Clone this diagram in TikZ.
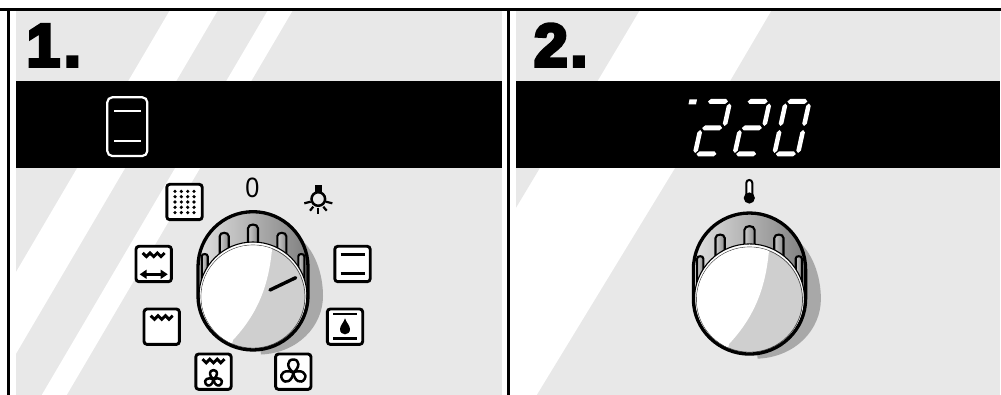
\documentclass[tikz,border=0pt]{standalone}
\usepackage{fontspec}
\setmainfont{Liberation Sans}
\newfontfamily\heavyfont[FakeBold=6,UprightFont=* Bold]{Liberation Sans}
\usetikzlibrary{arrows.meta}
\definecolor{panelgray}{HTML}{E8E8E8}
\definecolor{shadowgray}{HTML}{A8A8A8}
\definecolor{crescent}{HTML}{CFCFCF}
\tikzset{
  framebar/.style={draw=black,line width=2.9pt},
  displaybar/.style={fill=black},
  stripe/.style={fill=white},
  iconframe/.style={draw=black,line width=2.9pt,fill=white,rounded corners=3pt},
  iconline/.style={draw=black,line width=2.5pt},
  zigzag/.style={draw=black,line width=2.9pt,line join=miter},
  blade/.style={draw=black,line width=2.5pt,fill=white,line join=round},
  slotshape/.style={draw=black,line width=2.1pt,left color=white!80!black,right color=black!45},
  knoboutline/.style={draw=black,line width=3.3pt},
  segment/.style={fill=white},
  lcdicon/.style={draw=white,line width=2.2pt},
}
\newcommand{\iconbox}[2]{\draw[iconframe] (#1-17.7,#2-17.7) rectangle (#1+17.7,#2+17.7);}
\newcommand{\topheat}[1]{\draw[zigzag] (-11,#1) -- (-7.3,#1+3.6) -- (-3.7,#1) -- (0,#1+3.6) -- (3.7,#1) -- (7.3,#1+3.6) -- (11,#1);}
\newcommand{\fanblades}{%
  \foreach \a in {0,120,240}{%
    \draw[blade,rotate=\a] (0,0) .. controls (-7,-5) and (-6.5,-13) .. (0,-13) .. controls (6.5,-13) and (7,-5) .. (0,0);}}
\newcommand{\knobbody}{%
  \fill[shadowgray] (44,-60) .. controls (62,-47) and (70,-22) .. (70,0) .. controls (70,30) and (45,57) .. (8,58.5) -- (0,0) -- cycle;
  \path[left color=black!12,middle color=black!20,right color=black!50]
    (-55,-29) .. controls (-55,-60) and (-30,-84.3) .. (0,-84.3) .. controls (30,-84.3) and (55,-60) .. (55,-29) -- (55,0) .. controls (55,30) and (30,54) .. (0,54) .. controls (-30,54) and (-55,30) .. (-55,0) -- cycle;
  \foreach \sx/\hw/\st/\sb in {-48.3/3/-42.7/-8,48.3/3/-42.7/-8,-28.8/4.5/-64.3/-30,28.8/4.5/-64.3/-30,0/5/-72.7/-40}{%
    \draw[slotshape] (\sx-\hw,\sb) -- (\sx-\hw,\st+\hw) .. controls (\sx-\hw,\st) and (\sx+\hw,\st) .. (\sx+\hw,\st+\hw) -- (\sx+\hw,\sb) -- cycle;}
  \draw[black,line width=1.1pt,fill=white] (0,0) ellipse [x radius=54,y radius=54];
  \draw[black!70,line width=0.7pt,fill=crescent] (0,0.6) ellipse [x radius=52,y radius=51.6];
  \begin{scope}
    \clip (0,0.6) ellipse [x radius=51.7,y radius=51.3];
    \fill[white] (20,-60) .. controls (18,-25) and (12,10) .. (-20,44) -- (-24,60) -- (-70,60) -- (-70,-60) -- cycle;
  \end{scope}
  \draw[knoboutline]
    (-55,-29) .. controls (-55,-60) and (-30,-84.3) .. (0,-84.3) .. controls (30,-84.3) and (55,-60) .. (55,-29) -- (55,0) .. controls (55,30) and (30,54) .. (0,54) .. controls (-30,54) and (-55,30) .. (-55,0) -- cycle;
}
\newcommand{\hseg}[3]{\fill[segment] (#1,#3) -- (#1+2.4,#3-2.5) -- (#2-2.4,#3-2.5) -- (#2,#3) -- (#2-2.4,#3+2.5) -- (#1+2.4,#3+2.5) -- cycle;}
\newcommand{\vseg}[3]{\fill[segment] (#1,#2) -- (#1+2.3,#2+2.4) -- (#1+2.3,#3-2.4) -- (#1,#3) -- (#1-2.3,#3-2.4) -- (#1-2.3,#2+2.4) -- cycle;}
\begin{document}
\begin{tikzpicture}[x=1pt,y=-1pt]
\useasboundingbox (0,0) rectangle (1001,395);
\fill[white] (0,0) rectangle (1001,395);
% panels
\fill[panelgray] (15.5,10) rectangle (502,395);
\fill[panelgray] (516,10) rectangle (1000,395);
% stripes panel 1
\begin{scope}
  \clip (15.5,10) rectangle (502,395);
  \fill[stripe] (170,10) -- (218,10) -- (-20,415) -- (-68,415) -- cycle;
  \fill[stripe] (268,10) -- (293,10) -- (55,415) -- (30,415) -- cycle;
\end{scope}
% stripes panel 2
\fill[stripe] (640,10) -- (771.7,10) -- (730,81) -- (597.7,81) -- cycle;
\fill[stripe] (540,168) -- (675,168) -- (536.7,395) -- (516,395) -- (516,208) -- cycle;
% frame
\draw[framebar] (0,9.2) -- (1001,9.2);
\draw[framebar] (8.7,9.2) -- (8.7,395);
\draw[framebar] (508.7,9.2) -- (508.7,395);
% display bars
\fill[displaybar] (15.5,81) rectangle (502,168.3);
\fill[displaybar] (516,81) rectangle (1000,168.3);
% step numbers
\node[anchor=base west,inner sep=0pt,font=\heavyfont\fontsize{60}{60}\selectfont] (stepone) at (26.5,66) {1\kern4pt.};
\node[anchor=base west,inner sep=0pt,font=\heavyfont\fontsize{60}{60}\selectfont] (steptwo) at (534,66) {2\kern3pt.};
% display icon panel 1
\draw[lcdicon,rounded corners=5pt] (107.3,97.3) rectangle (147.3,156);
\draw[lcdicon] (114.3,111) -- (141,111);
\draw[lcdicon] (114.3,141) -- (141,141);
% seven-segment value, panel 2
\fill[segment] (689.5,99.3) -- (697,99.3) -- (696,104.3) -- (688.5,104.3) -- cycle;
\foreach \dx in {693,732.7}{%
  \begin{scope}[shift={(\dx,156)},xslant=0.22]
    \hseg{3}{23}{-54.5}
    \vseg{25}{-52.5}{-30}
    \hseg{3}{23}{-28}
    \vseg{1.5}{-26}{-3}
    \hseg{3}{23}{-2}
  \end{scope}}
\begin{scope}[shift={(772.4,156)},xslant=0.22]
  \hseg{3}{23}{-54.5}
  \vseg{25}{-52.5}{-30}
  \vseg{1.5}{-52.5}{-30}
  \vseg{25}{-26}{-3}
  \vseg{1.5}{-26}{-3}
  \hseg{3}{23}{-2}
\end{scope}
% knobs
\begin{scope}[shift={(253,296)}]
  \knobbody
  \draw[black,line width=3.4pt,line cap=round] (17,-6) -- (42.7,-18.3);
\end{scope}
\begin{scope}[shift={(749.5,299)},xscale=1.02,yscale=1.02]
  \knobbody
\end{scope}
% zero label
\node[inner sep=0pt,font=\fontsize{28}{28}\selectfont,xscale=0.9] (zero) at (252.5,188) {0};
% bulb
\fill[black] (315,185.5) rectangle (321.6,192);
\draw[black,line width=2.5pt,fill=none] (318.3,199) circle (6.8);
\draw[iconline,line width=2.2pt] (304.3,203.3) -- (310.7,201.7);
\draw[iconline,line width=2.2pt] (310,210.7) -- (313.3,206.7);
\draw[iconline,line width=2.2pt] (318.3,208.5) -- (318.3,214);
\draw[iconline,line width=2.2pt] (326.7,210.7) -- (323.3,206.7);
\draw[iconline,line width=2.2pt] (332.3,203.3) -- (326,201.7);
% thermometer
\draw[black,line width=2pt,fill=white] (746.3,196) -- (746.3,183) .. controls (746.3,179) and (752.3,179) .. (752.3,183) -- (752.3,196);
\fill[black] (749.3,198) circle (5.6);
% icons
\iconbox{184.5}{202}
\foreach \ix in {-9.5,-3.2,3.2,9.5}{\foreach \iy in {-10.6,-5.3,0,5.3,10.6}{\fill[black] (184.5+\ix,202+\iy) circle (1.8);}}
\iconbox{153.7}{264}
\begin{scope}[shift={(153.7,264)}]
  \topheat{-11}
  \draw[black,line width=3pt] (-10,10.3) -- (10,10.3);
  \fill[black] (-14,10.3) -- (-7,5.6) -- (-7,15) -- cycle;
  \fill[black] (14,10.3) -- (7,5.6) -- (7,15) -- cycle;
\end{scope}
\iconbox{161.7}{326.7}
\begin{scope}[shift={(161.7,326.7)}]\topheat{-11}\end{scope}
\iconbox{213.5}{371.7}
\begin{scope}[shift={(213.5,371.7)}]
  \topheat{-12.5}
  \begin{scope}[shift={(0,7.5)},xscale=0.7,yscale=0.7]\fanblades\end{scope}
\end{scope}
\iconbox{293.3}{371.7}
\begin{scope}[shift={(293.3,372.5)}]\fanblades\end{scope}
\iconbox{345}{326.7}
\begin{scope}[shift={(345,326.7)}]
  \draw[iconline] (-12,-12.7) -- (12,-12.7);
  \draw[iconline] (-12,12) -- (12,12);
  \fill[black] (0,-8.3) .. controls (1.5,-4) and (5,-1) .. (5,2.5) .. controls (5,9.3) and (-5,9.3) .. (-5,2.5) .. controls (-5,-1) and (-1.5,-4) .. (0,-8.3) -- cycle;
\end{scope}
\iconbox{352.5}{264}
\draw[iconline] (340.5,254.3) -- (364.5,254.3);
\draw[iconline] (340.5,273.7) -- (364.5,273.7);
\end{tikzpicture}
\end{document}
